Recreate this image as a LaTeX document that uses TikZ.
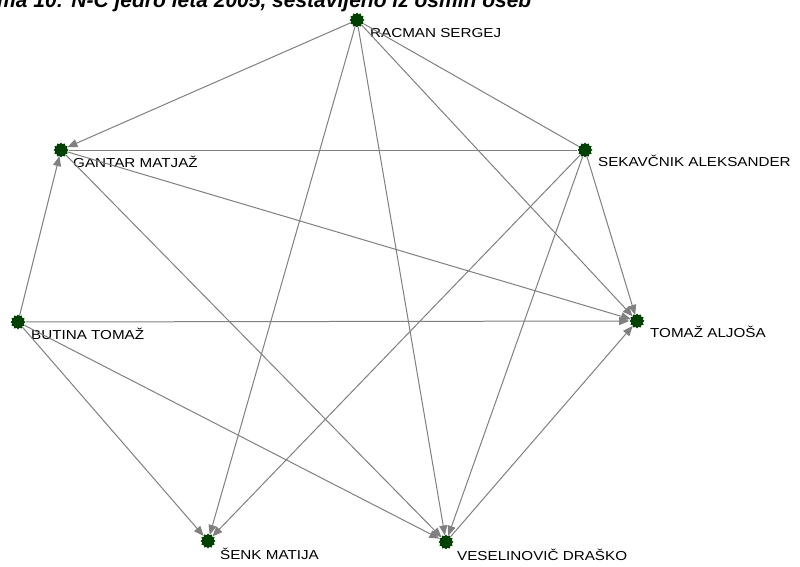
\documentclass[tikz,border=0pt]{standalone}
\usepackage{fontspec}
\setmainfont{Liberation Sans}
\newfontfamily\lblfont[FakeStretch=1.17]{Liberation Sans}
\usetikzlibrary{arrows.meta,shapes.geometric}
\definecolor{edgegray}{RGB}{128,128,128}
\definecolor{dotgreen}{RGB}{0,64,0}
\tikzset{
  actor/.style={star, star points=12, star point ratio=1.25, minimum size=15pt,
    inner sep=0pt, fill=dotgreen, draw=none},
  actorlabel/.style={anchor=west, font=\lblfont\fontsize{13}{13}\selectfont, inner sep=0pt},
  arc/.style={draw=edgegray, line width=1pt, -{Triangle[length=10pt,width=8pt]}},
  tie/.style={draw=edgegray, line width=1pt},
  captionstrip/.style={anchor=base west, inner sep=0pt,
    font=\bfseries\itshape\fontsize{21}{21}\selectfont},
}
\begin{document}
\begin{tikzpicture}[x=1pt,y=-1pt]
  \useasboundingbox (0,0) rectangle (800,567);
  \clip (0,0) rectangle (800,567);
  \fill[white] (0,0) rectangle (800,567);

  % caption strip along the top edge
  \node[captionstrip] (title) at (-3,7.5) {ma 10: N-C jedro leta 2005, sestavljeno iz osmih oseb};

  % actors
  \node[actor] (r) at (357,20)  {};
  \node[actor] (g) at (61,150)  {};
  \node[actor] (s) at (585,150) {};
  \node[actor] (b) at (18,322)  {};
  \node[actor] (t) at (637,321) {};
  \node[actor] (k) at (208,541) {};
  \node[actor] (v) at (446,542) {};

  % names
  \node[actorlabel] (rl) at (370,33)  {RACMAN SERGEJ};
  \node[actorlabel] (gl) at (73,162)  {GANTAR MATJAŽ};
  \node[actorlabel] (sl) at (598,161) {SEKAVČNIK ALEKSANDER};
  \node[actorlabel] (bl) at (31,334)  {BUTINA TOMAŽ};
  \node[actorlabel] (tl) at (650,332) {TOMAŽ ALJOŠA};
  \node[actorlabel] (kl) at (220,554) {ŠENK MATIJA};
  \node[actorlabel] (vl) at (457,555) {VESELINOVIČ DRAŠKO};

  % ties
  \draw[arc] (r) -- (g);
  \draw[tie] (r) -- (s);
  \draw[arc] (r) -- (t);
  \draw[arc] (r) -- (k);
  \draw[arc] (r) -- (v);
  \draw[tie] (g) -- (s);
  \draw[arc] (g) -- (t);
  \draw[arc] (g) -- (v);
  \draw[arc] (b) -- (g);
  \draw[arc] (b) -- (t);
  \draw[arc] (b) -- (k);
  \draw[arc] (b) -- (v);
  \draw[arc] (s) -- (t);
  \draw[arc] (s) -- (k);
  \draw[arc] (s) -- (v);
  \draw[arc] (v) -- (t);
\end{tikzpicture}
\end{document}
